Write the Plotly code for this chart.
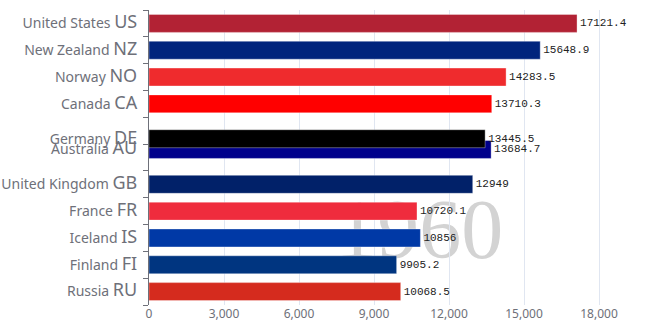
import plotly.graph_objects as go

# Data (AU listed before DE so DE is drawn on top, as in the reference)
names = ["United States", "New Zealand", "Norway", "Canada", "Australia", "Germany",
         "United Kingdom", "France", "Iceland", "Finland", "Russia"]
codes = ["US", "NZ", "NO", "CA", "AU", "DE", "GB", "FR", "IS", "FI", "RU"]
values = [17121.4, 15648.9, 14283.5, 13710.3, 13684.7, 13445.5,
          12949, 10720.1, 10856, 9905.2, 10068.5]
ranks = [0, 1, 2, 3, 4.7, 4.3, 6, 7, 8, 9, 10]
colors = ["#b22234", "#00247d", "#ef2b2d", "#ff0000", "#00008b", "#000000",
          "#012169", "#ef2c3d", "#0039a6", "#003580", "#d52b1e"]
year = "1960"
x_ticks = [0, 3000, 6000, 9000, 12000, 15000, 18000]

ticktext = [f"{n} <span style='font-size:18px'>{c}</span>" for n, c in zip(names, codes)]

fig = go.Figure()
fig.add_trace(go.Bar(
    x=values, y=ranks, orientation="h", width=0.67,
    marker=dict(color=colors, line=dict(color="rgba(255,255,255,0.35)", width=1)),
    text=[f"{v:g}" for v in values], textposition="outside",
    textfont=dict(family="Liberation Mono", size=11, color="#222"),
    cliponaxis=False, hoverinfo="skip",
))

fig.add_shape(type="rect", xref="paper", yref="paper",
              x0=0.469, x1=0.669, y0=0.185, y1=0.385,
              line=dict(width=0), fillcolor="rgba(0,0,0,0)", layer="below",
              label=dict(text=year, textposition="middle center",
                         font=dict(family="Liberation Serif", size=84, color="#d3d3d3")))

fig.update_layout(
    width=670, height=335,
    margin=dict(l=149, r=46, t=10, b=30, autoexpand=False),
    plot_bgcolor="white", paper_bgcolor="white",
    showlegend=False,
    font=dict(family="Noto Sans", color="#6e7079"),
    xaxis=dict(range=[0, 19000], tickvals=x_ticks, tickformat=",", automargin=False,
               showgrid=True, gridcolor="#e0e6f1", zeroline=False, showline=False,
               tickfont=dict(size=12, color="#6e7079"), ticks=""),
    yaxis=dict(range=[10.5, -0.5], tickmode="array", tickvals=ranks, ticktext=ticktext,
               automargin=False,
               showgrid=False, zeroline=False, showline=True, linecolor="#6e7079",
               ticks="", ticklabelstandoff=8,
               tickfont=dict(size=14, color="#6e7079"),
               minor=dict(tickmode="array", tickvals=[i - 0.5 for i in range(12)],
                          ticks="outside", ticklen=5, tickcolor="#6e7079", showgrid=False)),
)

fig.write_html("out.html")
